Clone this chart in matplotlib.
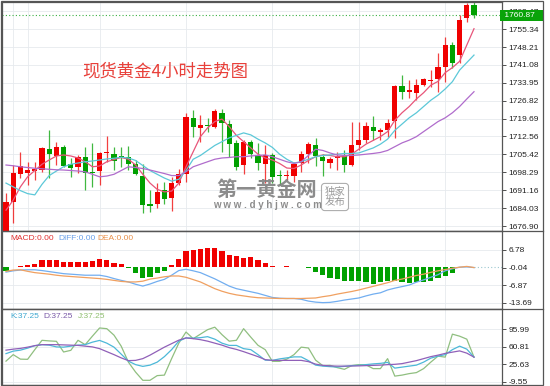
import matplotlib
matplotlib.use("Agg")
import matplotlib.pyplot as plt
import matplotlib.transforms as mtransforms
from matplotlib.patches import Rectangle
from matplotlib.lines import Line2D

# ---- data (4h candles) ----
opens = [1674.6, 1686.6, 1697.6, 1697.9, 1698.7, 1699.2, 1707.6, 1704.9, 1708.5, 1701.5,
         1700.3, 1704.3, 1698.6, 1699.0, 1705.9, 1705.6, 1704.9, 1704.5, 1701.6, 1696.9,
         1685.6, 1685.6, 1691.2, 1688.2, 1693.9, 1697.6, 1719.8, 1715.8, 1717.2, 1716.4,
         1722.0, 1717.5, 1709.8, 1701.4, 1710.2, 1705.2, 1701.7, 1705.2, 1697.1, 1696.8,
         1696.9, 1702.1, 1705.5, 1709.2, 1704.2, 1701.9, 1703.9, 1704.6, 1701.4, 1709.1,
         1711.1, 1716.2, 1714.4, 1715.1, 1718.8, 1732.6, 1730.4, 1729.7, 1733.0, 1734.5,
         1735.3, 1740.3, 1749.0, 1745.0, 1759.6, 1764.9]
highs = [1689.9, 1701.2, 1706.5, 1702.5, 1702.5, 1708.5, 1715.2, 1710.5, 1709.2, 1703.9,
         1705.2, 1708.5, 1709.9, 1706.5, 1712.8, 1708.5, 1708.5, 1708.7, 1703.2, 1701.8,
         1691.2, 1694.1, 1694.5, 1696.5, 1699.8, 1721.8, 1723.3, 1721.1, 1719.8, 1723.7,
         1723.7, 1719.1, 1711.1, 1711.1, 1711.1, 1709.9, 1709.2, 1705.9, 1699.2, 1699.2,
         1702.5, 1706.9, 1710.5, 1711.8, 1705.5, 1704.5, 1706.5, 1707.2, 1718.4, 1718.4,
         1718.4, 1720.7, 1715.8, 1719.7, 1733.0, 1737.0, 1735.0, 1735.3, 1735.8, 1739.0,
         1745.9, 1752.3, 1750.3, 1760.9, 1765.6, 1766.0]
lows = [1674.0, 1678.0, 1695.9, 1693.3, 1695.2, 1698.6, 1695.9, 1701.2, 1700.6, 1696.3,
        1697.9, 1691.3, 1692.6, 1693.3, 1702.5, 1699.2, 1700.5, 1699.2, 1697.2, 1681.9,
        1682.6, 1683.9, 1685.6, 1683.0, 1693.2, 1694.5, 1712.5, 1710.5, 1714.4, 1715.8,
        1706.5, 1704.5, 1699.2, 1697.8, 1703.8, 1699.2, 1693.9, 1693.9, 1693.3, 1695.2,
        1694.6, 1698.6, 1701.9, 1700.8, 1696.8, 1699.9, 1699.2, 1698.6, 1700.8, 1707.0,
        1709.8, 1711.1, 1711.1, 1712.5, 1711.8, 1727.3, 1727.7, 1727.1, 1732.5, 1732.4,
        1730.4, 1734.4, 1739.7, 1741.7, 1758.3, 1759.6]
closes = [1686.6, 1697.9, 1700.8, 1699.2, 1699.6, 1707.9, 1705.6, 1708.5, 1701.0, 1700.2,
          1704.3, 1697.9, 1697.9, 1705.9, 1706.5, 1702.8, 1704.4, 1701.6, 1697.6, 1685.2,
          1684.9, 1690.5, 1687.6, 1693.9, 1697.6, 1720.4, 1716.2, 1717.1, 1716.9, 1722.8,
          1718.0, 1709.5, 1700.5, 1710.2, 1705.6, 1701.9, 1705.0, 1696.6, 1696.8, 1697.1,
          1701.7, 1705.5, 1709.5, 1704.6, 1702.9, 1703.7, 1704.6, 1701.4, 1709.1, 1711.2,
          1716.7, 1714.8, 1715.1, 1718.0, 1732.6, 1730.4, 1731.0, 1733.0, 1735.4, 1735.0,
          1740.3, 1749.0, 1741.9, 1758.9, 1764.9, 1760.87]

ma_fast = [1683.2, 1687.2, 1692.5, 1696.5, 1699.0, 1701.5, 1703.2, 1704.8, 1705.2, 1704.8,
           1704.0, 1702.5, 1700.5, 1700.8, 1702.5, 1703.4, 1704.2, 1703.5, 1701.2, 1697.5,
           1694.0, 1691.5, 1690.5, 1690.8, 1694.0, 1700.5, 1706.5, 1712.5, 1716.0, 1718.5,
           1719.5, 1716.5, 1713.0, 1710.5, 1708.0, 1705.5, 1704.0, 1703.2, 1701.8, 1700.0,
           1699.8, 1701.2, 1703.0, 1704.5, 1705.2, 1705.0, 1704.5, 1704.5, 1705.5, 1707.5,
           1709.5, 1711.0, 1712.5, 1714.5, 1719.0, 1722.0, 1724.5, 1727.5, 1730.0, 1733.0,
           1734.5, 1738.0, 1740.0, 1742.5, 1749.0, 1755.5]
ma_mid = [1694.0, 1692.5, 1691.0, 1689.8, 1689.3, 1693.5, 1697.0, 1698.8, 1700.5, 1701.5,
          1702.0, 1702.5, 1702.8, 1703.2, 1703.6, 1703.9, 1704.3, 1704.0, 1703.0, 1701.0,
          1699.0, 1697.5, 1696.0, 1694.8, 1695.5, 1699.0, 1703.5, 1705.0, 1707.0, 1709.0,
          1710.5, 1712.0, 1713.0, 1714.0, 1713.2, 1711.5, 1710.0, 1708.2, 1705.5, 1703.5,
          1702.0, 1702.5, 1703.5, 1704.5, 1705.0, 1705.2, 1705.5, 1705.8, 1705.8, 1706.0,
          1707.0, 1708.0, 1709.5, 1711.5, 1715.0, 1717.5, 1720.0, 1722.0, 1724.5, 1727.0,
          1729.0, 1731.5, 1734.4, 1739.0, 1742.0, 1745.0]
ma_slow = [1701.2, 1700.9, 1700.5, 1700.2, 1699.9, 1699.7, 1699.5, 1699.3, 1699.2, 1699.0,
           1698.8, 1698.5, 1697.5, 1696.5, 1696.8, 1697.5, 1699.0, 1700.5, 1700.2, 1699.8,
           1699.2, 1698.5, 1697.8, 1697.0, 1697.0, 1698.5, 1700.5, 1701.5, 1702.5, 1703.5,
           1704.0, 1704.2, 1704.5, 1704.5, 1704.8, 1705.0, 1705.2, 1704.5, 1703.5, 1702.5,
           1701.8, 1702.5, 1705.0, 1707.5, 1707.0, 1706.0, 1705.2, 1705.0, 1705.0, 1705.2,
           1705.5, 1705.8, 1706.2, 1707.0, 1708.5, 1710.0, 1711.1, 1712.5, 1714.5, 1716.5,
           1718.5, 1720.0, 1722.0, 1724.5, 1727.5, 1730.4]

macd_hist = [-1.5, 0.3, 0.7, 1.0, 1.5, 3.0, 3.0, 2.8, 2.0, 2.0,
             2.3, 2.0, 2.6, 3.2, 2.8, 1.9, 1.3, -0.4, -2.3, -4.1,
             -3.6, -2.3, -1.3, 0.9, 3.2, 6.4, 6.7, 7.0, 7.5, 7.7,
             6.4, 4.9, 4.5, 3.6, 3.9, 2.8, 1.9, 0.6, 0.3, 0.4,
             0.3, 0.2, -0.2, -1.9, -3.0, -3.9, -4.5, -5.4, -5.1, -5.4,
             -5.8, -6.4, -5.8, -5.4, -5.1, -5.8, -6.2, -5.8, -5.8, -5.1,
             -4.2, -3.2, -2.3, 0.0, 0.0, 0.0]
diff = [-1.8, -1.3, -1.0, -0.9, -0.9, -1.2, -1.6, -2.0, -2.4, -2.6,
        -2.8, -3.0, -3.0, -3.0, -3.5, -4.3, -5.0, -5.6, -6.5, -7.2,
        -6.4, -5.4, -4.6, -3.0, -1.2, -0.7, -1.3, -2.0, -3.2, -4.4,
        -5.8, -7.2, -8.2, -8.8, -9.4, -10.0, -10.8, -11.6, -11.9, -12.0,
        -12.0, -12.3, -13.0, -13.4, -13.6, -13.5, -13.1, -12.6, -12.2, -11.8,
        -11.0, -10.3, -9.8, -8.7, -8.0, -7.4, -6.8, -5.7, -4.8, -3.8,
        -2.8, -1.3, -0.5, 0.1, 0.2, -0.04]
dea = [-1.5, -1.0, -0.9, -1.5, -2.0, -2.3, -2.6, -3.0, -3.3, -3.5,
       -3.7, -3.9, -4.1, -4.3, -4.6, -5.0, -5.4, -5.6, -5.6, -5.3,
       -4.5, -4.1, -3.6, -3.3, -3.3, -3.8, -4.7, -5.6, -6.9, -8.2,
       -9.2, -10.0, -10.6, -11.0, -11.4, -11.7, -11.8, -11.9, -12.0, -12.0,
       -12.0, -12.0, -11.9, -11.8, -11.3, -10.9, -10.3, -9.8, -9.3, -8.7,
       -8.0, -7.3, -6.6, -5.9, -5.0, -4.5, -3.8, -3.1, -2.6, -1.9,
       -1.3, -0.8, -0.3, 0.1, 0.4, -0.04]

k_line = [47, 52, 54, 58, 63, 65, 64, 60.5, 60, 62,
          64, 65, 70, 73.5, 68, 60, 46, 32, 25, 21.5,
          24, 30, 41, 55, 72, 78.5, 78, 79, 81, 76,
          68, 63.5, 63.5, 57, 55, 45, 34, 33.5, 36.5, 38.5,
          40.5, 40.5, 33, 24, 22, 21, 20.2, 21.5, 23, 23.6,
          25, 26.5, 27.5, 29.5, 18, 20, 22, 24, 30, 38,
          42, 45, 55, 62, 56, 40]
d_line = [54, 56, 57.5, 60, 63, 65, 65, 65, 64.5, 64,
          63.5, 62, 60.5, 57, 51, 45, 38.5, 33, 33.5, 37,
          44, 52, 60, 67, 74, 78.5, 77, 75, 72, 68,
          64, 59, 55.5, 51, 46, 41, 35, 33.5, 33.5, 33.5,
          33.5, 33.5, 31, 26, 23.5, 22.5, 22, 22, 22.2, 22.5,
          23, 23.5, 24, 25, 25.6, 27, 30, 33, 37, 41,
          44, 47.5, 50, 52.5, 48, 40]
j_line = [32, 45, 36, 35.6, 55, 73.7, 72.5, 71.7, 50.3, 53.6,
          73.7, 65, 82, 98.4, 97, 84, 62, 30, 10, -6.4,
          -6.4, 3, 4, 36.9, 68, 90.3, 77, 86, 95, 100,
          85, 72, 73.7, 97, 80, 63.7, 55, 31.6, 31.6, 36,
          45, 60, 58.3, 34, 23, 23.6, 19, 15.6, 23, 25,
          24.5, 17, 17, 37, 2, 4, 7, 9, 17, 30,
          42, 40, 86, 82, 76, 40]

price_ticks = [1676.90, 1684.03, 1691.16, 1698.29, 1705.42, 1712.56, 1719.69,
               1726.82, 1733.95, 1741.08, 1748.21, 1755.34, 1762.47]
macd_ticks = [6.78, -0.04, -6.87, -13.69]
kdj_ticks = [95.99, 60.81, 25.63, -9.55]
last_price = 1760.87

W, H = 550, 386
RED = "#f00000"
GREEN = "#00a000"
GRID = "#e6eaee"

plt.rcParams["font.family"] = ["Liberation Sans", "DejaVu Sans"]

fig = plt.figure(figsize=(W / 100, H / 100), dpi=100)


def px_axes(x0, y0, x1, y1):
    return fig.add_axes([x0 / W, 1 - y1 / H, (x1 - x0) / W, (y1 - y0) / H])


ax1 = px_axes(2, 2, 502, 231)
ax2 = px_axes(2, 231, 502, 309)
ax3 = px_axes(2, 309, 502, 385)

idx = list(range(len(closes)))
xlo, xhi = -4 / 7.2, 496 / 7.2

for ax in (ax1, ax2, ax3):
    ax.set_xlim(xlo, xhi)
    ax.yaxis.tick_right()
    ax.tick_params(axis="x", length=0, labelbottom=False)
    ax.tick_params(axis="y", length=3, width=0.6, color="#333333",
                   labelsize=6, labelcolor="#222222", pad=1.5)
    for s in ax.spines.values():
        s.set_color("#555555")
        s.set_linewidth(0.9)
    ax.set_axisbelow(True)

# ---- main price panel ----
ax1.set_ylim(1674.91, 1766.14)
ax1.set_yticks(price_ticks)
# the top label sits mostly behind the last-price box, as in the screenshot
ax1.set_yticklabels([f"{t:.2f}" for t in price_ticks])
for t in price_ticks:
    ax1.axhline(t, color=GRID, lw=0.6, zorder=0)
for v in [1, 3, 13, 25, 37, 49, 61]:
    ax1.axvline(v, color=GRID, lw=0.6, zorder=0)

for i in idx:
    o, h, l, c = opens[i], highs[i], lows[i], closes[i]
    col = RED if c >= o else GREEN
    ax1.vlines(i, l, h, color=col, lw=0.9, alpha=0.75, zorder=2)
    body = max(abs(c - o), 0.35)
    ax1.bar(i, body, bottom=min(o, c), width=0.7, color=col, zorder=3)

ax1.plot(idx, ma_fast, color="#e8557a", lw=0.9, zorder=4)
ax1.plot(idx, ma_mid, color="#5cc8d8", lw=0.9, zorder=4)
ax1.plot(idx, ma_slow, color="#b06ccc", lw=0.9, zorder=4)

ax1.axhline(last_price, color="#3cb043", lw=0.8, ls=(0, (1, 2)), zorder=1)
ax1.text(1.0, last_price, " " + f"{last_price:.2f}" + "   ", color="white", fontsize=6,
         va="center", ha="left",
         transform=mtransforms.blended_transform_factory(ax1.transAxes, ax1.transData),
         bbox=dict(boxstyle="square,pad=0.25", fc="#09a309", ec="none"),
         clip_on=False, zorder=10)

fig.text(165 / W, 1 - 72 / H, "现货黄金4小时走势图", color="#e8403a", fontsize=12.5,
         family=["Noto Sans CJK SC", "DejaVu Sans"], ha="center", va="center")

# watermark
fig.text(267 / W, 1 - 190 / H, "第一黄金网", color="#808080", fontsize=14.5,
         family=["Noto Sans CJK SC"], weight="bold", ha="center", va="center", alpha=0.9)
fig.text(267 / W, 1 - 205 / H, "w w w . d y h j w . c o m", color="#808080", fontsize=7,
         weight="bold", ha="center", va="center", alpha=0.9)
fig.text(335 / W, 1 - 197 / H, "独家\n发布", color="#8c8c8c", fontsize=7.5, linespacing=1.1,
         family=["Noto Sans CJK SC"], ha="center", va="center", alpha=0.9,
         bbox=dict(boxstyle="round,pad=0.3", fc="white", ec="#9a9a9a", lw=0.8, alpha=0.8))

# ---- MACD panel ----
ax2.set_ylim(-16.06, 14.09)
ax2.set_yticks(macd_ticks)
ax2.set_yticklabels([f"{t:.2f}" for t in macd_ticks])
for t in macd_ticks:
    if t != -0.04:
        ax2.axhline(t, color=GRID, lw=0.6, zorder=0)
for v in [1, 13, 25, 37, 49, 61]:
    ax2.axvline(v, color=GRID, lw=0.6, zorder=0)
ax2.bar(idx, macd_hist, width=0.7,
        color=[RED if v >= 0 else GREEN for v in macd_hist], zorder=3)
ax2.plot(idx, diff, color="#72aef0", lw=0.9, zorder=4)
ax2.plot(idx, dea, color="#f0a060", lw=0.9, zorder=4)
ax2.plot([idx[-1], xhi], [0, 0], color="#9cc8d0", lw=0.8, ls=(0, (1, 2)), zorder=2)

fig.text(10 / W, 1 - 238 / H, "MACD:0.00", color="#e03030", fontsize=6, va="center")
fig.text(58 / W, 1 - 238 / H, "DIFF:0.00", color="#6aa0e8", fontsize=6, va="center")
fig.text(97 / W, 1 - 238 / H, "DEA:0.00", color="#e8904a", fontsize=6, va="center")

# ---- KDJ panel ----
ax3.set_ylim(-15.8, 136.4)
ax3.set_yticks(kdj_ticks)
ax3.set_yticklabels([f"{t:.2f}" for t in kdj_ticks])
for t in kdj_ticks:
    ax3.axhline(t, color=GRID, lw=0.6, zorder=0)
for v in [1, 13, 25, 37, 49, 61]:
    ax3.axvline(v, color=GRID, lw=0.6, zorder=0)
ax3.plot(idx, j_line, color="#90bf80", lw=0.9, zorder=3)
ax3.plot(idx, k_line, color="#4cb8d8", lw=0.9, zorder=4)
ax3.plot(idx, d_line, color="#9060b8", lw=0.9, zorder=4)

fig.text(10 / W, 1 - 316 / H, "K:37.25", color="#3fa8d0", fontsize=6, va="center")
fig.text(43 / W, 1 - 316 / H, "D:37.25", color="#7a5aa8", fontsize=6, va="center")
fig.text(78 / W, 1 - 316 / H, "J:37.25", color="#8fbf6f", fontsize=6, va="center")

# ---- outer frame and panel separators on the price scale side ----
fig.patches.append(Rectangle((1 / W, 1 / H), 542 / W, 384 / H, transform=fig.transFigure,
                             fill=False, ec="#555555", lw=0.9))
for yy in (231, 309):
    fig.add_artist(Line2D([2 / W, 543 / W], [1 - yy / H, 1 - yy / H],
                          transform=fig.transFigure, color="#555555", lw=0.9))

fig.savefig("out.png", dpi=100)
